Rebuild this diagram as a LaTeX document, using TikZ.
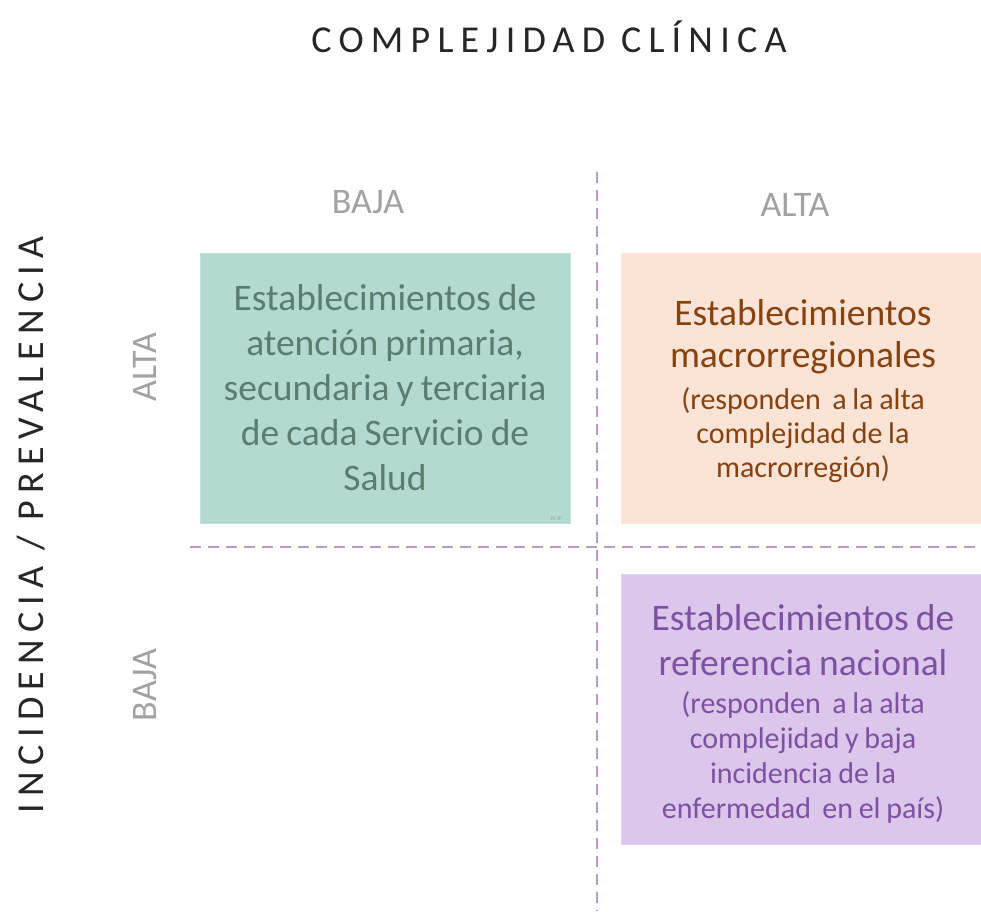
\documentclass[tikz,border=0pt]{standalone}
\usepackage{fontspec}
\setmainfont{Carlito}
\newfontfamily\titlefont[LetterSpace=19]{Carlito}
\definecolor{greenbox}{HTML}{B3DAD1}
\definecolor{greentext}{HTML}{5A7D71}
\definecolor{orangebox}{HTML}{FBE3D6}
\definecolor{orangetext}{HTML}{86420F}
\definecolor{purplebox}{HTML}{DCC6EB}
\definecolor{purpletext}{HTML}{7D51A1}
\definecolor{dashcol}{HTML}{B89AD4}
\definecolor{graylab}{HTML}{A2A2A2}
\newcommand{\tsp}{\spaceskip=0.19em\xspaceskip=0.19em\relax}
\begin{document}
\begin{tikzpicture}[x=1pt,y=-1pt,
  quadbox/.style={fill=#1, draw=#1!80!white, line width=1pt, minimum height=270pt, inner sep=0pt},
  headtext/.style={text width=360pt, align=center, inner sep=0pt, font=\fontsize{37.5}{45}\selectfont},
  subtext/.style={text width=355pt, align=center, inner sep=0pt, font=\fontsize{30}{35}\selectfont},
  axisline/.style={draw=dashcol, line width=2pt, dash pattern=on 11pt off 7pt},
  graylabel/.style={text=graylab, font=\fontsize{36}{38}\selectfont, inner sep=0pt},
  axistitle/.style={text=black!85, font=\titlefont\fontsize{38}{40}\selectfont, inner sep=0pt}]
\useasboundingbox (0,0) rectangle (981,911);
\fill[white] (0,0) rectangle (981,911);

% boxes
\node[quadbox=greenbox, minimum width=370pt] (g) at (385,388) {};
\node[quadbox=orangebox, minimum width=362pt] (o) at (802,388) {};
\node[quadbox=purplebox, minimum width=362pt] (p) at (802,709) {};

% box texts
\node[headtext, text=greentext] (gt) at (385,388) {\tsp Establecimientos de\\atención primaria,\\secundaria y terciaria\\de cada Servicio de\\Salud};
\node[headtext, text=orangetext, font=\fontsize{37.5}{42}\selectfont] (oh) at (803,337) {\tsp Establecimientos\\macrorregionales};
\node[subtext, text=orangetext, font=\fontsize{30}{34}\selectfont] (os) at (803,435) {\tsp (responden\ \ a la alta\\complejidad de la\\macrorregión)};
\node[headtext, text=purpletext] (ph) at (803,640) {\tsp Establecimientos de\\referencia nacional};
\node[subtext, text=purpletext] (ps) at (803,757) {\tsp (responden\ \ a la alta\\complejidad y baja\\incidencia de la\\enfermedad\ \ en el país)};
\node[text=greentext!70, font=\fontsize{6}{7}\selectfont, inner sep=0pt] (sig) at (556,519) {JV-JF};

% dashed axes
\coordinate (vtop) at (597,172);
\coordinate (vbot) at (597,911);
\coordinate (hleft) at (190,547);
\coordinate (hright) at (981,547);
\draw[axisline] (vtop) -- (vbot);
\draw[axisline] (hleft) -- (hright);

% axis labels
\node[axistitle] (title) at (549,37) {COMPLEJIDAD CLÍNICA};
\node[axistitle, rotate=90] (side) at (31,525) {INCIDENCIA / PREVALENCIA};
\node[graylabel] (baja1) at (368,202) {BAJA};
\node[graylabel] (alta1) at (795,205) {ALTA};
\node[graylabel, rotate=90] (alta2) at (145,367) {ALTA};
\node[graylabel, rotate=90] (baja2) at (145,685) {BAJA};
\end{tikzpicture}
\end{document}
